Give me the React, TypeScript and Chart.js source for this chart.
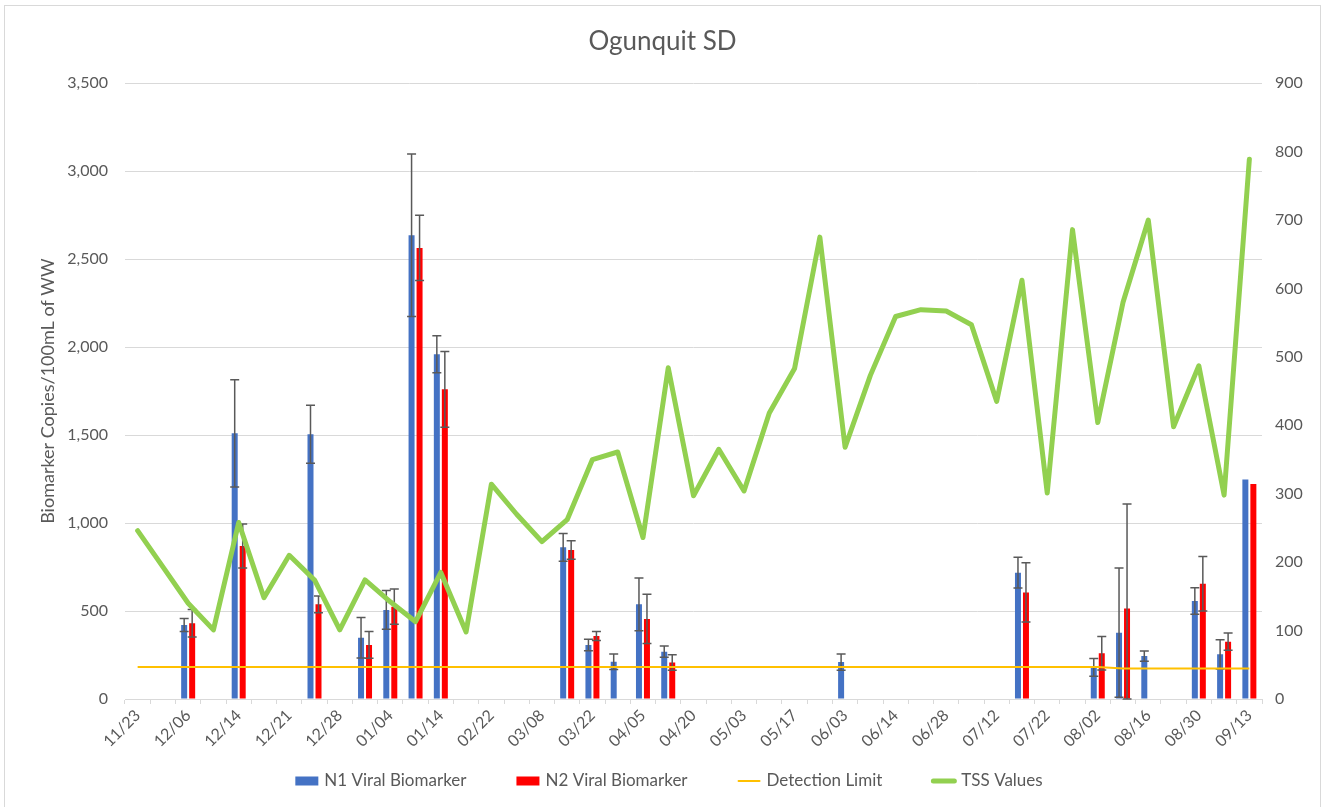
import React, { useEffect, useRef } from "react";
import { Chart, registerables } from "chart.js";

Chart.register(...registerables);

const categories: string[] = [
  "11/23", "", "12/06", "", "12/14", "", "12/21", "", "12/28", "", "01/04", "", "01/14", "",
  "02/22", "", "03/08", "", "03/22", "", "04/05", "", "04/20", "", "05/03", "", "05/17", "",
  "06/03", "", "06/14", "", "06/28", "", "07/12", "", "07/22", "", "08/02", "", "08/16", "",
  "08/30", "", "09/13",
];

const n1Values: (number | null)[] = [
  null, null, 420, null, 1510, null, null, 1505, null, 348, 506, 2636, 1960, null, null,
  null, null, 862, 307, 212, 538, 269, null, null, null, null, null, null, 210, null,
  null, null, null, null, null, 718, null, null, 180, 377, 244, null, 557, 254, 1248,
];

const n2Values: (number | null)[] = [
  null, null, 430, null, 870, null, null, 538, null, 307, 525, 2564, 1760, null, null,
  null, null, 847, 358, null, 455, 208, null, null, null, null, null, null, null, null,
  null, null, null, null, null, 606, null, null, 260, 515, null, null, 655, 326, 1222,
];

const n1Errors: (number | null)[] = [
  null, null, 37, null, 305, null, null, 165, null, 115, 110, 462, 105, null, null,
  null, null, 79, 33, 44, 150, 32, null, null, null, null, null, null, 46, null,
  null, null, null, null, null, 87, null, null, 50, 367, 29, null, 76, 83, null,
];

const n2Errors: (number | null)[] = [
  null, null, 78, null, 125, null, null, 48, null, 76, 100, 185, 215, null, null,
  null, null, 53, 26, null, 140, 44, null, null, null, null, null, null, null, null,
  null, null, null, null, null, 168, null, null, 95, 593, null, null, 155, 49, null,
];

const detectionLimit: number[] = [
  182, 182, 182, 182, 182, 182, 182, 182, 182, 182, 182, 182, 182, 182, 182,
  182, 182, 182, 182, 182, 182, 182, 182, 182, 182, 182, 182, 182, 182, 182,
  182, 182, 182, 182, 182, 182, 182, 182, 182, 174, 174, 174, 174, 174, 174,
];

const tssValues: number[] = [
  246, 193, 140, 101, 258, 148, 210, 174, 101, 174, 142, 113, 185, 98, 314,
  270, 230, 262, 350, 361, 236, 484, 297, 365, 304, 418, 483, 675, 368, 473,
  559, 569, 567, 547, 435, 612, 301, 686, 404, 580, 700, 398, 487, 298, 789,
];

const leftTicks = { min: 0, max: 3500, step: 500 };
const rightTicks = { min: 0, max: 900, step: 100 };

const TEXT = "#595959";
const GRID = "#D9D9D9";
const FONT = "Lato";

const errorBarPlugin = {
  id: "errorBars",
  afterDatasetDraw(chart: any, args: any) {
    if (args.index !== 0) return;
    const ctx = chart.ctx;
    const yScale = chart.scales.y;
    const sets: [number, (number | null)[]][] = [
      [0, n1Errors],
      [1, n2Errors],
    ];
    ctx.save();
    ctx.strokeStyle = "#595959";
    ctx.lineWidth = 1.5;
    sets.forEach(([di, errs]) => {
      const meta = chart.getDatasetMeta(di);
      const data = chart.data.datasets[di].data;
      meta.data.forEach((bar: any, i: number) => {
        const v = data[i];
        const e = errs[i];
        if (v == null || e == null) return;
        const x = bar.x;
        const yTop = yScale.getPixelForValue(v + e);
        const yBot = yScale.getPixelForValue(Math.max(0, v - e));
        const cap = 4.5;
        ctx.beginPath();
        ctx.moveTo(x, yTop);
        ctx.lineTo(x, yBot);
        ctx.moveTo(x - cap, yTop);
        ctx.lineTo(x + cap, yTop);
        ctx.moveTo(x - cap, yBot);
        ctx.lineTo(x + cap, yBot);
        ctx.stroke();
      });
    });
    ctx.restore();
  },
};

const legendPlugin = {
  id: "customLegend",
  afterDraw(chart: any) {
    const ctx = chart.ctx;
    ctx.save();
    ctx.font = `17px ${FONT}`;
    ctx.textBaseline = "middle";
    ctx.textAlign = "left";
    const datasets = chart.data.datasets;
    const boxW = 23;
    const gapText = 6;
    const gapItem = 50;
    const widths = datasets.map((ds: any) => boxW + gapText + ctx.measureText(ds.label).width);
    const total = widths.reduce((a: number, b: number) => a + b, 0) + gapItem * (datasets.length - 1);
    let x = 664 - total / 2;
    const yc = 775;
    datasets.forEach((ds: any, i: number) => {
      if (ds.type === "line") {
        ctx.strokeStyle = ds.borderColor;
        ctx.lineWidth = ds.borderWidth;
        ctx.lineCap = "round";
        ctx.beginPath();
        ctx.moveTo(x + 1, yc);
        ctx.lineTo(x + boxW - 1, yc);
        ctx.stroke();
      } else {
        ctx.fillStyle = ds.backgroundColor;
        ctx.fillRect(x, yc - 4.5, boxW, 9);
      }
      ctx.fillStyle = TEXT;
      ctx.fillText(ds.label, x + boxW + gapText, yc);
      x += widths[i] + gapItem;
    });
    ctx.restore();
  },
};

function App() {
  const ref = useRef<HTMLCanvasElement | null>(null);

  useEffect(() => {
    if (!ref.current) return;
    const chart = new Chart(ref.current, {
      type: "bar",
      data: {
        labels: categories,
        datasets: [
          {
            type: "bar",
            label: "N1 Viral Biomarker",
            data: n1Values,
            backgroundColor: "#4472C4",
            borderWidth: 0,
            yAxisID: "y",
            order: 2,
            categoryPercentage: 0.633,
            barPercentage: 0.75,
          } as any,
          {
            type: "bar",
            label: "N2 Viral Biomarker",
            data: n2Values,
            backgroundColor: "#FF0000",
            borderWidth: 0,
            yAxisID: "y",
            order: 2,
            categoryPercentage: 0.633,
            barPercentage: 0.75,
          } as any,
          {
            type: "line",
            label: "Detection Limit",
            data: detectionLimit,
            borderColor: "#FFC000",
            borderWidth: 2,
            pointRadius: 0,
            tension: 0,
            yAxisID: "y",
            order: 1,
          } as any,
          {
            type: "line",
            label: "TSS Values",
            data: tssValues,
            borderColor: "#92D050",
            borderWidth: 5,
            pointRadius: 0,
            tension: 0,
            borderJoinStyle: "round",
            borderCapStyle: "round",
            yAxisID: "y1",
            order: 0,
          } as any,
        ],
      },
      options: {
        responsive: false,
        animation: false,
        layout: { padding: { left: 0, right: 0, top: 0, bottom: 48 } },
        plugins: {
          legend: { display: false },
          tooltip: { enabled: false },
          title: {
            display: true,
            text: "Ogunquit SD",
            color: TEXT,
            font: { family: FONT, size: 26, weight: "normal" },
            padding: { top: 20, bottom: 26 },
          },
        },
        scales: {
          x: {
            offset: true,
            grid: {
              offset: true,
              drawOnChartArea: false,
              drawTicks: true,
              tickLength: 5,
              color: GRID,
            },
            border: { display: true, color: GRID },
            ticks: {
              autoSkip: false,
              maxRotation: 45,
              minRotation: 45,
              color: TEXT,
              font: { family: FONT, size: 16 },
              padding: 2,
            },
            afterFit: (s: any) => {
              s.height = 60;
            },
          },
          y: {
            position: "left",
            min: leftTicks.min,
            max: leftTicks.max,
            ticks: {
              stepSize: leftTicks.step,
              padding: 17,
              color: TEXT,
              font: { family: FONT, size: 16 },
            },
            grid: { color: GRID, drawTicks: false },
            border: { display: false },
            title: {
              display: true,
              text: "Biomarker Copies/100mL of WW",
              color: TEXT,
              font: { family: FONT, size: 18 },
              padding: { top: 32, bottom: 0 },
            },
            afterFit: (s: any) => {
              s.width = 120;
            },
          },
          y1: {
            position: "right",
            min: rightTicks.min,
            max: rightTicks.max,
            ticks: {
              stepSize: rightTicks.step,
              padding: 13,
              color: TEXT,
              font: { family: FONT, size: 16 },
            },
            grid: { display: false, drawTicks: false },
            border: { display: false },
            afterFit: (s: any) => {
              s.width = 58;
            },
          },
        },
      } as any,
      plugins: [errorBarPlugin, legendPlugin],
    });
    return () => chart.destroy();
  }, []);

  return (
    <div
      style={{
        position: "fixed",
        left: 4,
        top: 5,
        width: 1317,
        height: 810,
        border: "1px solid #D9D9D9",
        boxSizing: "border-box",
        background: "#fff",
      }}
    >
      <canvas ref={ref} width={1315} height={801} style={{ display: "block" }} />
    </div>
  );
}

export default App;
